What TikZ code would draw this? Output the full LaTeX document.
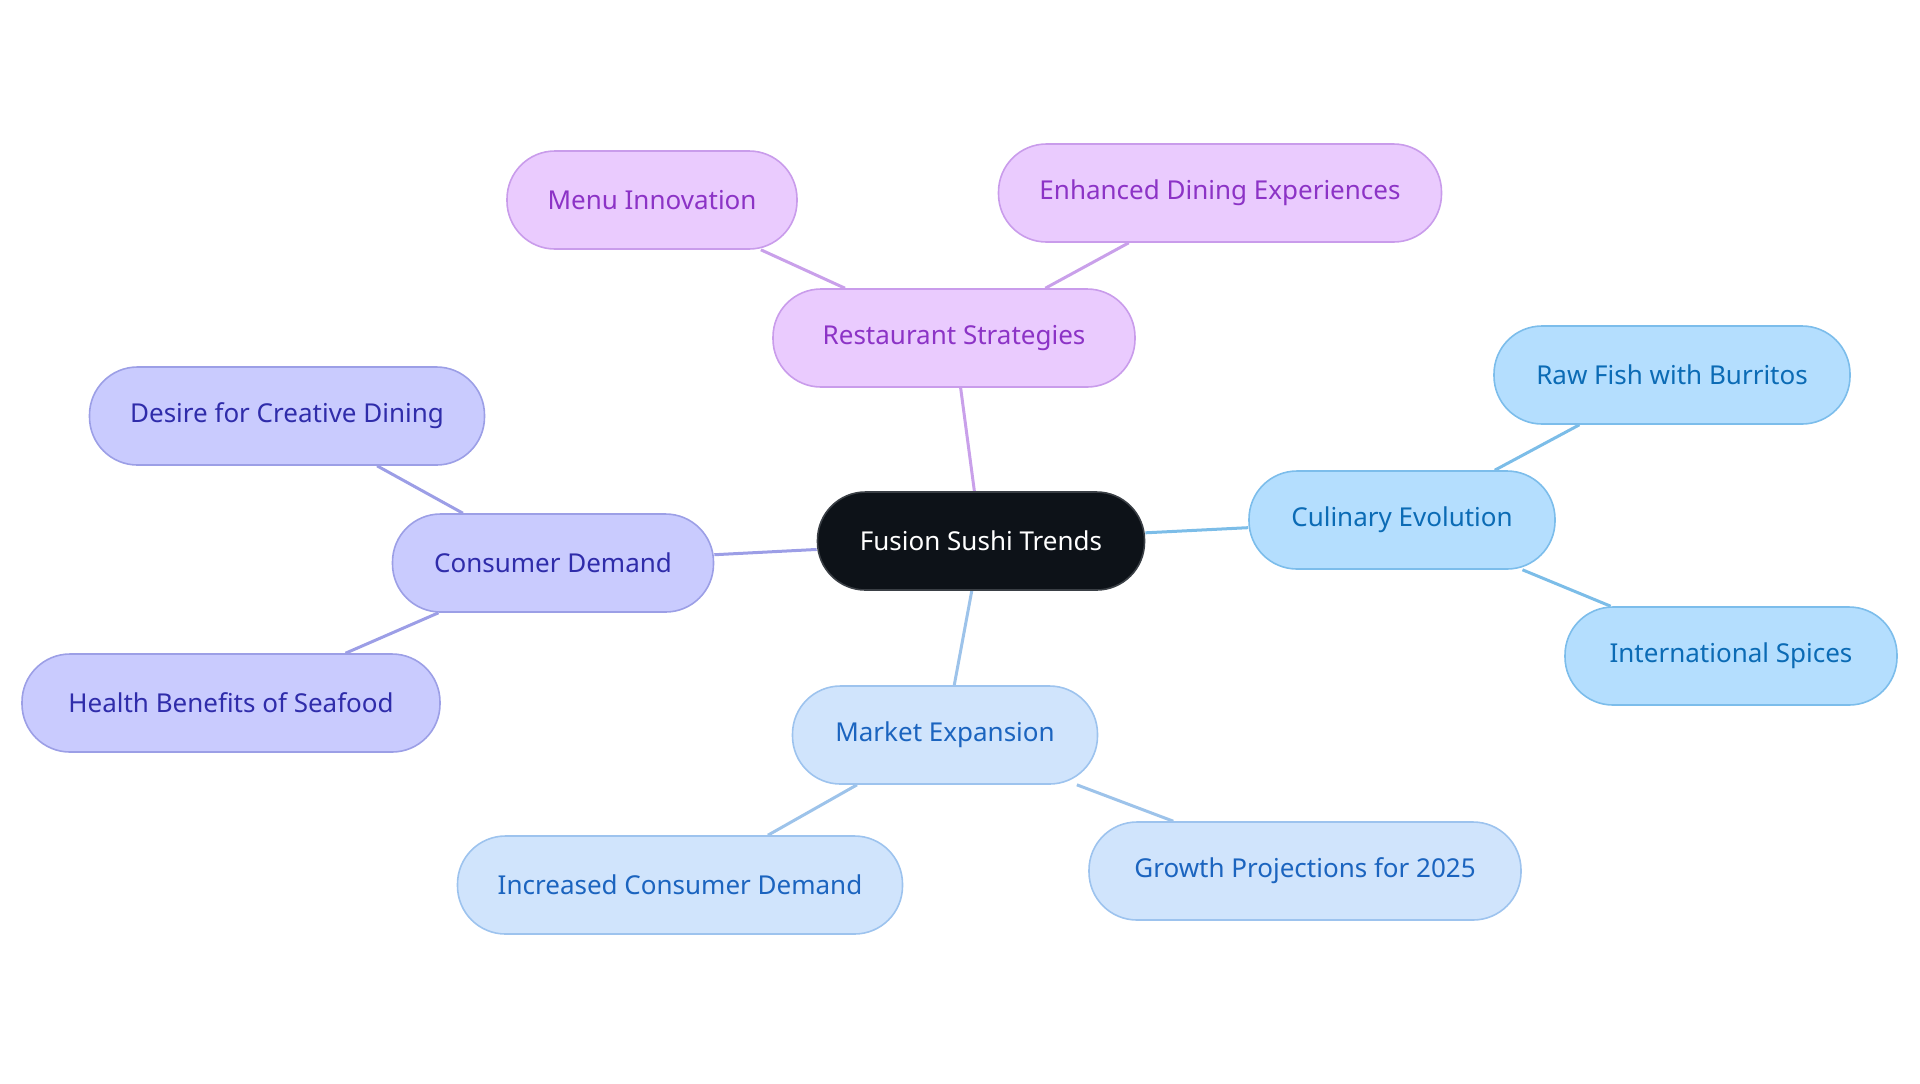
\documentclass[tikz,border=0pt]{standalone}
\usepackage{fontspec}
\setmainfont{Noto Sans}
\usetikzlibrary{backgrounds}
\definecolor{cfill}{HTML}{0D1218}
\definecolor{cdraw}{HTML}{3A3F45}
\definecolor{pfill}{HTML}{EACBFE}
\definecolor{pdraw}{HTML}{C99CEB}
\definecolor{ptext}{HTML}{8C33C6}
\definecolor{pedge}{HTML}{C9A0EA}
\definecolor{bfill}{HTML}{B4DEFE}
\definecolor{bdraw}{HTML}{7CBDEB}
\definecolor{btext}{HTML}{0B6BB5}
\definecolor{bedge}{HTML}{7CBDE8}
\definecolor{lfill}{HTML}{C9CBFE}
\definecolor{ldraw}{HTML}{9C9FE6}
\definecolor{ltext}{HTML}{2F2CAA}
\definecolor{ledge}{HTML}{9C9EE6}
\definecolor{mfill}{HTML}{D0E4FC}
\definecolor{mdraw}{HTML}{9DC3EE}
\definecolor{mtext}{HTML}{1B64BF}
\definecolor{medge}{HTML}{9DC3EA}
\tikzset{
  pill/.style={rounded corners=24pt, minimum height=49pt, inner sep=0pt, line width=0.8pt,
    font=\fontsize{13pt}{15pt}\selectfont},
  central/.style={pill, fill=cfill, draw=cdraw, text=white},
  pnode/.style={pill, fill=pfill, draw=pdraw, text=ptext},
  bnode/.style={pill, fill=bfill, draw=bdraw, text=btext},
  lnode/.style={pill, fill=lfill, draw=ldraw, text=ltext},
  mnode/.style={pill, fill=mfill, draw=mdraw, text=mtext},
  link/.style={line width=1.5pt}
}
\begin{document}
\begin{tikzpicture}[x=0.5pt,y=-0.5pt]
\useasboundingbox (0,0) rectangle (1920,1083);
\node[central, minimum width=163.5pt] (c) at (981,541) {Fusion Sushi Trends};
\node[pnode, minimum width=181pt] (rs) at (954,338) {Restaurant Strategies};
\node[pnode, minimum width=145pt] (mi) at (652,200) {Menu Innovation};
\node[pnode, minimum width=221.5pt] (ed) at (1220,193) {Enhanced Dining Experiences};
\node[bnode, minimum width=153pt] (ce) at (1402,520) {Culinary Evolution};
\node[bnode, minimum width=178pt] (rf) at (1672,375) {Raw Fish with Burritos};
\node[bnode, minimum width=166pt] (is) at (1731,656) {International Spices};
\node[lnode, minimum width=160.5pt] (cd) at (553,563) {Consumer Demand};
\node[lnode, minimum width=197.5pt] (dc) at (287,416) {Desire for Creative Dining};
\node[lnode, minimum width=209pt] (hb) at (231,703) {Health Benefits of Seafood};
\node[mnode, minimum width=152.5pt] (me) at (945,735) {Market Expansion};
\node[mnode, minimum width=222.5pt] (ic) at (680,885) {Increased Consumer Demand};
\node[mnode, minimum width=216pt] (gp) at (1305,871) {Growth Projections for 2025};
\begin{scope}[on background layer]
\draw[link, pedge] (c) -- (rs);
\draw[link, pedge] (rs) -- (mi);
\draw[link, pedge] (rs) -- (ed);
\draw[link, bedge] (c) -- (ce);
\draw[link, bedge] (ce) -- (rf);
\draw[link, bedge] (ce) -- (is);
\draw[link, ledge] (c) -- (cd);
\draw[link, ledge] (cd) -- (dc);
\draw[link, ledge] (cd) -- (hb);
\draw[link, medge] (c) -- (me);
\draw[link, medge] (me) -- (ic);
\draw[link, medge] (me) -- (gp);
\end{scope}
\end{tikzpicture}
\end{document}
